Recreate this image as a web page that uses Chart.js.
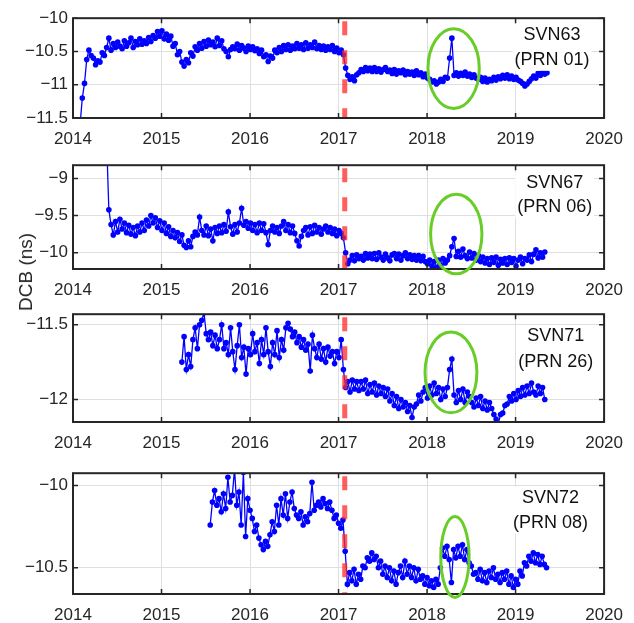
<!DOCTYPE html>
<html>
<head>
<meta charset="utf-8">
<script src="https://cdn.jsdelivr.net/npm/chart.js@4.4.0/dist/chart.umd.min.js"></script>
<style>
body { margin:0; background:#fff; }
#wrap { position:relative; width:634px; height:623px; overflow:hidden; }
canvas { position:absolute; left:0; }
#ylab { position:absolute; left:26px; top:272px; transform:translate(-50%,-50%) rotate(-90deg);
        font:19px 'Liberation Sans', Arial, sans-serif; color:#262626; white-space:nowrap; }
</style>
</head>
<body>
<div id="wrap">
<canvas id="c1" width="634" height="143" style="top:3px"></canvas>
<canvas id="c2" width="634" height="147" style="top:150px"></canvas>
<canvas id="c3" width="634" height="151" style="top:299px"></canvas>
<canvas id="c4" width="634" height="164" style="top:458px"></canvas>
<div id="ylab">DCB (ns)</div>
</div>
<script>
// sampling of each series: first epoch (decimal year) and spacing
var sampleStep = 0.025;
var startYears = [2014.08, 2014.38, 2015.23, 2015.55];
var eventYear = 2017.07;

var xTicks = [2014, 2015, 2016, 2017, 2018, 2019, 2020];
var yTicks = [[-11.5, -11, -10.5, -10], [-10, -9.5, -9], [-12, -11.5], [-10.5, -10]];
var names = [['SVN63', '(PRN 01)'], ['SVN67', '(PRN 06)'], ['SVN71', '(PRN 26)'], ['SVN72', '(PRN 08)']];

// DCB values (ns)
var dcb63 = [
  -11.6, -11.2, -10.98, -10.62, -10.48, -10.56, -10.6, -10.7, -10.64, -10.66,
  -10.52, -10.56, -10.44, -10.3, -10.48, -10.38, -10.44, -10.36, -10.42, -10.46,
  -10.34, -10.42, -10.37, -10.3, -10.44, -10.35, -10.4, -10.31, -10.39, -10.34,
  -10.38, -10.29, -10.35, -10.26, -10.3, -10.2, -10.27, -10.19, -10.31, -10.24,
  -10.33, -10.27, -10.42, -10.38, -10.55, -10.5, -10.66, -10.72, -10.62, -10.67,
  -10.52, -10.57, -10.43, -10.48, -10.38, -10.45, -10.35, -10.42, -10.33, -10.4,
  -10.36, -10.43, -10.3, -10.41, -10.34, -10.46, -10.5, -10.58, -10.47, -10.43,
  -10.46, -10.39, -10.48, -10.41, -10.45, -10.5, -10.42, -10.47, -10.43, -10.49,
  -10.46, -10.53, -10.48, -10.58, -10.55, -10.65, -10.57, -10.6, -10.48, -10.52,
  -10.44, -10.5, -10.41, -10.47, -10.4, -10.48, -10.42, -10.46, -10.38, -10.45,
  -10.4, -10.47, -10.37, -10.45, -10.4, -10.44, -10.36, -10.46, -10.41, -10.47,
  -10.42, -10.48, -10.43, -10.47, -10.41, -10.5, -10.45, -10.52, -10.48, -10.55,
  -10.75, -10.86, -10.92, -10.88, -10.94, -10.85, -10.82, -10.77, -10.8, -10.74,
  -10.79, -10.75, -10.8, -10.74, -10.8, -10.76, -10.81, -10.77, -10.74, -10.8,
  -10.78, -10.83, -10.77, -10.84, -10.79, -10.82, -10.78, -10.85, -10.8, -10.84,
  -10.81, -10.86, -10.79, -10.85, -10.82, -10.88, -10.84, -10.9, -10.92, -10.96,
  -10.94, -10.99, -10.96, -10.92, -10.95, -10.89, -10.9, -10.6, -10.3, -10.86,
  -10.82, -10.87, -10.83, -10.86, -10.81, -10.87, -10.84, -10.89, -10.85, -10.9,
  -10.92, -10.89, -10.95, -10.9, -10.96, -10.92, -10.94, -10.89, -10.93, -10.88,
  -10.91, -10.86, -10.9, -10.85, -10.91, -10.87, -10.92, -10.89, -10.93, -10.95,
  -10.98, -11.02, -10.99, -10.95, -10.91, -10.87, -10.9, -10.83, -10.86, -10.81,
  -10.84, -10.82
];
var dcb67 = [
  -8.5, -9.42, -9.62, -9.76, -9.58, -9.72, -9.55, -9.68, -9.6, -9.73,
  -9.63, -9.75, -9.66, -9.77, -9.64, -9.72, -9.6, -9.7, -9.56, -9.64,
  -9.5, -9.6, -9.53, -9.66, -9.57, -9.7, -9.6, -9.74, -9.65, -9.78,
  -9.7, -9.8, -9.73, -9.85, -9.76, -9.9, -9.93, -9.84, -9.92, -9.78,
  -9.72, -9.76, -9.52, -9.7, -9.76, -9.64, -9.77, -9.68, -9.84, -9.66,
  -9.74, -9.64, -9.73, -9.62, -9.71, -9.45, -9.65, -9.75, -9.62, -9.72,
  -9.6, -9.4, -9.63, -9.58, -9.67, -9.6, -9.7, -9.62, -9.73, -9.6,
  -9.7, -9.61, -9.73, -9.89, -9.7, -9.64, -9.72, -9.66, -9.74, -9.64,
  -9.58, -9.7, -9.62, -9.73, -9.64, -9.74, -9.84, -9.91, -9.78, -9.7,
  -9.66, -9.76, -9.65, -9.74, -9.63, -9.72, -9.66, -9.75, -9.68, -9.64,
  -9.72, -9.66, -9.74, -9.68, -9.77, -9.7, -9.74, -9.8, -10.0, -10.15,
  -10.1, -10.04, -10.11, -10.03, -10.08, -10.05, -10.1, -10.01, -10.07, -10.02,
  -10.08, -10.01, -10.09, -10.0, -10.06, -10.1, -10.02, -10.07, -10.11, -10.03,
  -10.01, -10.08, -10.02, -10.1, -10.04, -10.0, -10.08, -10.03, -10.09, -10.04,
  -10.1, -10.04, -10.11, -10.05, -10.12, -10.15, -10.1, -10.18, -10.12, -10.2,
  -10.1, -10.17, -10.08, -10.14, -10.1, -10.04, -9.92, -9.81, -10.05, -9.98,
  -10.06, -9.95, -10.04, -10.08, -9.99, -10.07, -10.01, -10.1, -10.04, -10.12,
  -10.06, -10.14, -10.08, -10.16, -10.07, -10.13, -10.06, -10.17, -10.09, -10.14,
  -10.08, -10.16, -10.07, -10.13, -10.08, -10.18, -10.1, -10.06, -10.15, -10.08,
  -10.1, -10.03, -10.12, -10.02, -9.96, -10.07, -10.0, -10.06, -9.99
];
var dcb71 = [
  -11.75, -11.58, -11.8, -11.7, -11.78, -11.6, -11.52, -11.66, -11.5, -11.47,
  -11.42, -11.56, -11.6, -11.55, -11.64, -11.57, -11.66, -11.6, -11.5, -11.66,
  -11.62, -11.7, -11.52, -11.68, -11.8, -11.64, -11.5, -11.72, -11.65, -11.83,
  -11.66, -11.7, -11.56, -11.68, -11.62, -11.76, -11.6, -11.7, -11.52, -11.68,
  -11.78, -11.62, -11.7, -11.54, -11.72, -11.6, -11.67, -11.52, -11.49, -11.53,
  -11.58, -11.55, -11.62, -11.58, -11.65, -11.6, -11.67, -11.63, -11.81, -11.57,
  -11.66, -11.72, -11.63, -11.73, -11.66, -11.75, -11.65, -11.71, -11.68, -11.76,
  -11.68, -11.72, -11.6, -11.8, -11.92, -11.88, -11.95, -11.87, -11.93, -11.88,
  -11.94, -11.88, -11.93, -11.87, -11.96, -11.9, -11.95, -11.89, -11.97, -11.91,
  -11.96, -11.92, -11.98, -11.93, -12.01, -11.96, -12.04, -11.98, -12.06, -12.0,
  -12.05, -12.02, -12.08, -12.04, -12.12, -12.05, -12.03, -11.97, -12.01, -11.95,
  -11.92, -11.99, -11.91, -11.97, -11.89, -11.96, -11.92, -12.0, -11.93, -11.98,
  -11.92, -11.8, -11.73, -11.97, -12.02, -11.94, -12.0, -11.93, -12.02, -11.95,
  -11.98, -12.02, -12.05, -11.99, -12.04, -11.98, -12.06, -12.01, -12.07, -12.02,
  -12.06, -12.1, -12.13, -12.16, -12.1, -12.09, -12.04, -12.03, -11.98, -12.01,
  -11.96, -12.0, -11.94, -11.98, -11.92, -11.97, -11.91, -11.96, -11.89, -11.95,
  -11.97, -11.91, -11.96, -11.92, -12.0
];
var dcb72 = [
  -10.24, -10.1, -10.03, -10.12, -10.08, -10.16, -10.05, -10.14, -9.95, -10.1,
  -10.06, -9.9, -10.12, -10.04, -10.24, -9.92, -10.31, -10.08, -10.15, -10.2,
  -10.28, -10.24, -10.32, -10.36, -10.39, -10.34, -10.37, -10.3, -10.22, -10.28,
  -10.12, -10.24, -10.08, -10.18, -10.05, -10.2, -10.1, -10.04, -10.14, -10.18,
  -10.2, -10.16, -10.24, -10.19, -10.22, -10.17, -9.98, -10.15, -10.12, -10.1,
  -10.13, -10.08, -10.11, -10.14, -10.1, -10.15, -10.2, -10.18, -10.23, -10.26,
  -10.21, -10.4, -10.6, -10.53, -10.58, -10.51, -10.6, -10.54, -10.57, -10.49,
  -10.5, -10.44, -10.46, -10.41, -10.45, -10.43, -10.5, -10.46, -10.54, -10.49,
  -10.56, -10.5, -10.58, -10.52, -10.6, -10.53, -10.49, -10.56, -10.46, -10.54,
  -10.49, -10.56, -10.5, -10.58, -10.51, -10.57, -10.55, -10.6, -10.56, -10.61,
  -10.58, -10.62, -10.57, -10.6, -10.5, -10.38, -10.43, -10.37, -10.45, -10.59,
  -10.39, -10.44, -10.37, -10.43, -10.36, -10.45, -10.39, -10.47, -10.49, -10.54,
  -10.53, -10.57, -10.51, -10.58, -10.53, -10.59, -10.52, -10.56, -10.5, -10.57,
  -10.54, -10.59, -10.53, -10.57, -10.52, -10.6, -10.55, -10.62, -10.57, -10.6,
  -10.52, -10.55, -10.47, -10.49, -10.43, -10.46, -10.41, -10.47, -10.42, -10.48,
  -10.43, -10.48, -10.5
];

var series = [dcb63, dcb67, dcb71, dcb72];
var yRanges = [[-11.5, -10], [-10.22, -8.82], [-12.15, -11.43], [-10.66, -9.925]];
// highlighted epoch: centre year, centre value, half width (yr), half height (ns)
var rings = [[2018.30, -10.757, 0.29, 0.60], [2018.33, -9.748, 0.29, 0.537],
             [2018.27, -11.819, 0.293, 0.27], [2018.315, -10.435, 0.16, 0.246]];

// layout of each panel
var rightPad = [26, 25, 22, 19];
var namePos = [[0.902, 0.172, 0.417], [0.907, 0.175, 0.402], [0.909, 0.207, 0.441], [0.899, 0.202, 0.409]];

Chart.defaults.font.family = "'Liberation Sans', Arial, sans-serif";
Chart.defaults.font.size = 17;
Chart.defaults.color = '#262626';

function fmtVal(v) {
  return (v < 0 ? '\u2212' : '') + Math.abs(v);
}

function decorations(k) {
  return {
    id: 'deco' + k,
    afterDatasetsDraw: function(chart) {
      var ctx = chart.ctx, a = chart.chartArea, x = chart.scales.x, y = chart.scales.y;
      ctx.save();
      // event line
      var ex = x.getPixelForValue(eventYear);
      ctx.strokeStyle = 'rgba(255,40,40,0.75)';
      ctx.lineWidth = 5;
      ctx.setLineDash([14, 15]);
      ctx.beginPath();
      ctx.moveTo(ex, a.top + 3);
      ctx.lineTo(ex, a.bottom);
      ctx.stroke();
      ctx.setLineDash([]);

      // satellite name with white box
      var np = namePos[k];
      var cx = a.left + np[0] * a.width;
      var y1 = a.top + np[1] * a.height, y2 = a.top + np[2] * a.height;
      ctx.font = "18px 'Liberation Sans', Arial, sans-serif";
      var w = Math.max(ctx.measureText(names[k][0]).width, ctx.measureText(names[k][1]).width);
      ctx.fillStyle = '#fff';
      ctx.fillRect(cx - w / 2 - 2, y1 - 11, w + 4, y2 - y1 + 22);
      ctx.fillStyle = '#111';
      ctx.textAlign = 'center';
      ctx.textBaseline = 'middle';
      ctx.fillText(names[k][0], cx, y1);
      ctx.fillText(names[k][1], cx, y2);

      // box and inward ticks
      ctx.strokeStyle = '#262626';
      ctx.lineWidth = 1.5;
      ctx.beginPath();
      xTicks.forEach(function(v) {
        var px = x.getPixelForValue(v);
        ctx.moveTo(px, a.bottom); ctx.lineTo(px, a.bottom - 5);
        ctx.moveTo(px, a.top); ctx.lineTo(px, a.top + 5);
      });
      yTicks[k].forEach(function(v) {
        var py = y.getPixelForValue(v);
        ctx.moveTo(a.left, py); ctx.lineTo(a.left + 5, py);
        ctx.moveTo(a.right, py); ctx.lineTo(a.right - 5, py);
      });
      ctx.stroke();
      ctx.lineWidth = 2;
      ctx.strokeRect(a.left, a.top, a.width, a.height);

      // ellipse
      var r = rings[k];
      var ox = x.getPixelForValue(r[0]), oy = y.getPixelForValue(r[1]);
      var rx = Math.abs(x.getPixelForValue(r[0] + r[2]) - ox);
      var ry = Math.abs(y.getPixelForValue(r[1] + r[3]) - oy);
      ctx.strokeStyle = 'rgb(105,205,40)';
      ctx.lineWidth = 3;
      ctx.beginPath();
      ctx.ellipse(ox, oy, rx, ry, 0, 0, Math.PI * 2);
      ctx.stroke();
      ctx.restore();
    }
  };
}

series.forEach(function(vals, k) {
  var t0 = startYears[k];
  new Chart(document.getElementById('c' + (k + 1)), {
    type: 'line',
    data: {
      datasets: [{
        data: vals.map(function(v, i) { return {x: t0 + i * sampleStep, y: v}; }),
        borderColor: '#0000ff',
        backgroundColor: '#0000ff',
        borderWidth: 1.3,
        pointRadius: 2.8,
        pointBorderWidth: 0,
        pointHoverRadius: 0,
        tension: 0,
        clip: 0
      }]
    },
    options: {
      responsive: false,
      animation: false,
      devicePixelRatio: 1,
      events: [],
      layout: { padding: { top: 12, right: rightPad[k], bottom: 0, left: 0 } },
      plugins: { legend: { display: false }, tooltip: { enabled: false } },
      scales: {
        x: {
          type: 'linear', min: 2014, max: 2020,
          afterBuildTicks: function(s) { s.ticks = xTicks.map(function(v) { return {value: v}; }); },
          afterFit: function(s) { s.height = 28; },
          grid: { color: '#dfdfdf', drawTicks: false },
          border: { display: false },
          ticks: { padding: 11, maxRotation: 0, autoSkip: false, callback: function(v) { return String(v); } }
        },
        y: {
          min: yRanges[k][0], max: yRanges[k][1],
          afterBuildTicks: function(s) { s.ticks = yTicks[k].map(function(v) { return {value: v}; }); },
          afterFit: function(s) { s.width = 73; },
          grid: { color: '#dfdfdf', drawTicks: false },
          border: { display: false },
          ticks: { padding: 5, callback: fmtVal }
        }
      }
    },
    plugins: [decorations(k)]
  });
});
</script>
</body>
</html>
